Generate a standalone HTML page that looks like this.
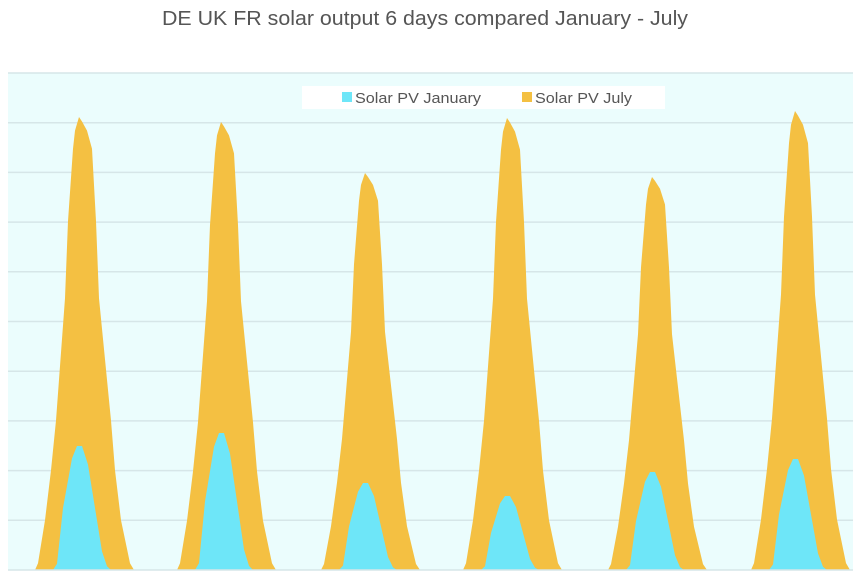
<!DOCTYPE html>
<html><head><meta charset="utf-8"><style>
html,body{margin:0;padding:0;background:#fff;}
svg{display:block;}
</style></head><body>
<svg id="s" width="863" height="582" xmlns="http://www.w3.org/2000/svg">
<rect x="0" y="0" width="863" height="582" fill="#ffffff"/>
<rect x="8" y="73" width="845" height="497" fill="#ebfdfd"/>
<g id="grid" stroke="#d6e6e8" stroke-width="1.5"></g>
<g id="areas"></g>
<line x1="8" y1="570" x2="853" y2="570" stroke="#d6e6e8" stroke-width="1.5"/>
<rect x="302" y="86" width="363" height="23" fill="#ffffff"/>
<rect x="342" y="92" width="10" height="10" fill="#6ee6f8"/>
<text x="355" y="103" font-family="Liberation Sans, sans-serif" font-size="15" fill="#555" textLength="126" lengthAdjust="spacingAndGlyphs">Solar PV January</text>
<rect x="522" y="92" width="10" height="10" fill="#f4c042"/>
<text x="535" y="103" font-family="Liberation Sans, sans-serif" font-size="15" fill="#555" textLength="97" lengthAdjust="spacingAndGlyphs">Solar PV July</text>
<text x="162" y="25" font-family="Liberation Sans, sans-serif" font-size="20" fill="#555" textLength="526" lengthAdjust="spacingAndGlyphs">DE UK FR solar output 6 days compared January - July</text>
</svg>
<script>
var ns="http://www.w3.org/2000/svg";
var g=document.getElementById('grid');
for(var i=0;i<10;i++){var y=73+i*49.7;var l=document.createElementNS(ns,'line');l.setAttribute('x1',8);l.setAttribute('x2',853);l.setAttribute('y1',y);l.setAttribute('y2',y);g.appendChild(l);}
var base=570;
var jul=[[-45,0],[-42,0.015],[-35,0.11],[-29,0.22],[-24,0.33],[-15,0.6],[-12,0.77],[-7,0.93],[-5,0.97],[-1,1],[2,0.99],[7,0.97],[12,0.93],[16,0.77],[19,0.6],[31,0.33],[35,0.22],[41,0.11],[50,0.015],[54,0]];
var jan=[[-27,0],[-23,0.05],[-17,0.5],[-8,0.9],[-3,1],[2,1],[8,0.85],[15,0.5],[22,0.15],[27,0.03],[31,0]];
var px=[80,222,366,508,653,796];
var jt=[117,122,173,118,177,111];
var nt=[446,433,483,496,472,459];
function poly(prof,tops,col){
  var pts=[[8,base]];
  for(var k=0;k<6;k++){var h=base-tops[k];
    prof.forEach(function(p){var x=Math.min(853,px[k]+p[0]);pts.push([x,base-h*p[1]]);});}
  pts.push([853,base]);
  var e=document.createElementNS(ns,'polygon');
  e.setAttribute('points',pts.map(function(p){return p[0].toFixed(1)+','+p[1].toFixed(1)}).join(' '));
  e.setAttribute('fill',col);document.getElementById('areas').appendChild(e);
}
poly(jul,jt,'#f4c042');
poly(jan,nt,'#6ee6f8');
</script>
</body></html>
